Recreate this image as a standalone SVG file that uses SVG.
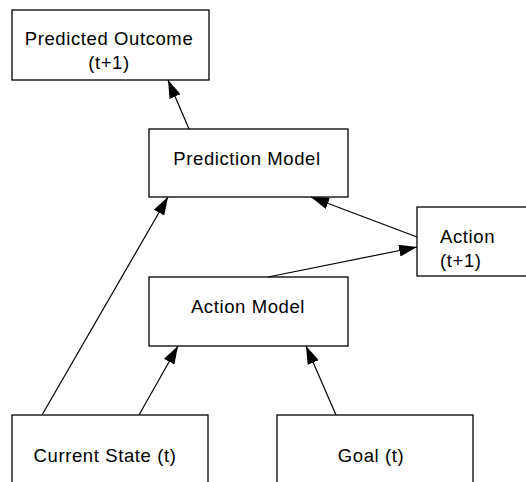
<svg xmlns="http://www.w3.org/2000/svg" width="526" height="482" viewBox="0 0 526 482">
<defs>
<marker id="ah" markerWidth="18" markerHeight="12" refX="18" refY="6" orient="auto" markerUnits="userSpaceOnUse">
<path d="M0,0 L18,6 L0,12 Z" fill="#000"/>
</marker>
<style>
.box{fill:#fff;stroke:#000;stroke-width:1.3}
.t{font-family:"Liberation Sans",Arial,sans-serif;font-size:18.5px;letter-spacing:0.6px;fill:#000}
.c{text-anchor:middle}
.e{stroke:#000;stroke-width:1.2;fill:none;marker-end:url(#ah)}
</style>
</defs>
<rect width="526" height="482" fill="#fff"/>
<g id="predicted-outcome">
<rect class="box" x="12" y="10" width="197" height="70"/>
<text class="t c" x="109" y="45">Predicted Outcome</text>
<text class="t c" x="109" y="69">(t+1)</text>
</g>
<g id="prediction-model">
<rect class="box" x="149" y="129" width="199" height="68"/>
<text class="t c" x="247" y="165">Prediction Model</text>
</g>
<g id="action">
<rect class="box" x="417" y="207" width="115" height="69"/>
<text class="t" x="440" y="243">Action</text>
<text class="t" x="440" y="267">(t+1)</text>
</g>
<g id="action-model">
<rect class="box" x="149" y="277" width="199" height="69"/>
<text class="t c" x="248" y="313">Action Model</text>
</g>
<g id="current-state">
<rect class="box" x="12" y="415" width="196" height="80"/>
<text class="t c" x="105" y="462">Current State (t)</text>
</g>
<g id="goal">
<rect class="box" x="277" y="415" width="196" height="80"/>
<text class="t c" x="371" y="462">Goal (t)</text>
</g>
<g id="connectors">
<line class="e" x1="189" y1="129" x2="168" y2="80"/>
<line class="e" x1="42" y1="415" x2="168" y2="197"/>
<line class="e" x1="417" y1="237" x2="311" y2="197"/>
<line class="e" x1="268" y1="277" x2="417" y2="247"/>
<line class="e" x1="139" y1="415" x2="178" y2="346"/>
<line class="e" x1="336" y1="415" x2="306" y2="346"/>
</g>
</svg>
